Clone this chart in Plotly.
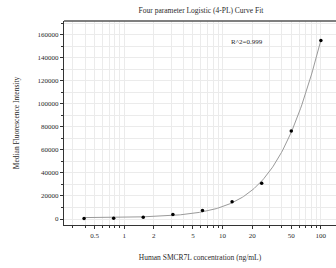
import numpy as np
import plotly.graph_objects as go

conc = [0.39, 0.78, 1.56, 3.125, 6.25, 12.5, 25, 50, 100]
mfi = [500, 600, 1500, 4000, 7500, 15000, 31000, 76500, 155000]
x_tick_vals = [0.5, 1, 2, 5, 10, 20, 50, 100]
x_tick_text = ["0.5", "1", "2", "5", "10", "20", "50", "100"]
x_minor_vals = [0.3, 0.4, 0.6, 0.7, 0.8, 0.9, 3, 4, 6, 7, 8, 9, 30, 40, 60, 70, 80, 90]
y_tick_vals = [0, 20000, 40000, 60000, 80000, 100000, 120000, 140000, 160000]
y_tick_text = ["0", "20000", "40000", "60000", "80000", "100000", "120000", "140000", "160000"]
r2_text = "R^2=0.999"

# 4PL fit of the data (grid search over B, C; linear least squares for A, D)
xa = np.array(conc, float)
ya = np.array(mfi, float)
best = None
for B in np.linspace(0.5, 3.0, 126):
    for C in np.logspace(0, 4, 161):
        g = xa**B / (C**B + xa**B)
        M = np.vstack([np.ones_like(g), g]).T
        coef, *_ = np.linalg.lstsq(M, ya, rcond=None)
        sse = np.sum((M @ coef - ya) ** 2)
        if best is None or sse < best[0]:
            best = (sse, B, C, coef)
_, B, C, (A0, A1) = best
xc = np.logspace(np.log10(conc[0]), np.log10(conc[-1]), 200)
yc = A0 + A1 * xc**B / (C**B + xc**B)

font = "Liberation Serif"
txt = "#2a2a2a"
fig = go.Figure()
fig.add_trace(go.Scatter(x=xc, y=yc, mode="lines",
                         line=dict(color="#9a9a9a", width=1), hoverinfo="skip"))
fig.add_trace(go.Scatter(x=conc, y=mfi, mode="markers",
                         marker=dict(color="black", size=3.5)))

fig.update_layout(
    width=336, height=268,
    margin=dict(l=64, r=0, t=21, b=43),
    paper_bgcolor="white", plot_bgcolor="white",
    showlegend=False,
    font=dict(family=font, size=7, color=txt),
    title=dict(text="Four parameter Logistic (4-PL) Curve Fit",
               x=201/336, xanchor="center", y=1 - 10/268, yanchor="middle",
               font=dict(family=font, size=7.5, color=txt)),
)
fig.update_xaxes(
    type="log", range=[-0.613, 2.154], automargin=False,
    tickvals=x_tick_vals, ticktext=x_tick_text,
    ticks="outside", ticklen=3, tickcolor="#333", tickwidth=1,
    showline=True, linecolor="#333", linewidth=1.2,
    showgrid=True, gridcolor="#ebebeb", gridwidth=1,
    zeroline=False,
    minor=dict(tickvals=x_minor_vals, ticks="outside", ticklen=2,
               tickcolor="#333", showgrid=True, gridcolor="#ebebeb"),
    title=dict(text="Human SMCR7L concentration (ng/mL)", standoff=16,
               font=dict(family=font, size=7.5, color=txt)),
    tickfont=dict(family=font, size=7, color=txt),
)
fig.update_yaxes(
    range=[-5200, 172000], automargin=False,
    tickvals=y_tick_vals, ticktext=y_tick_text,
    ticks="outside", ticklen=3, tickcolor="#333",
    showline=True, linecolor="#333", linewidth=1.2,
    showgrid=True, gridcolor="#ebebeb",
    zeroline=False,
    minor=dict(dtick=10000, ticks="outside", ticklen=2, tickcolor="#333",
               showgrid=True, gridcolor="#ebebeb"),
    title=dict(text="Median Fluorescence Intensity", standoff=16,
               font=dict(family=font, size=7.5, color=txt)),
    tickfont=dict(family=font, size=7, color=txt),
)
fig.add_shape(type="line", xref="paper", yref="paper", x0=0, x1=1, y0=1, y1=1,
              line=dict(color="#555", width=1.5))
fig.add_annotation(text=r2_text, xref="paper", yref="paper",
                   x=(265 - 64) / 272, y=(225 - 36) / 204, showarrow=False,
                   font=dict(family=font, size=7, color=txt))
fig.write_html("out.html", config={"displayModeBar": False},
               post_script="document.body.style.margin='0';document.body.style.overflow='hidden';")
